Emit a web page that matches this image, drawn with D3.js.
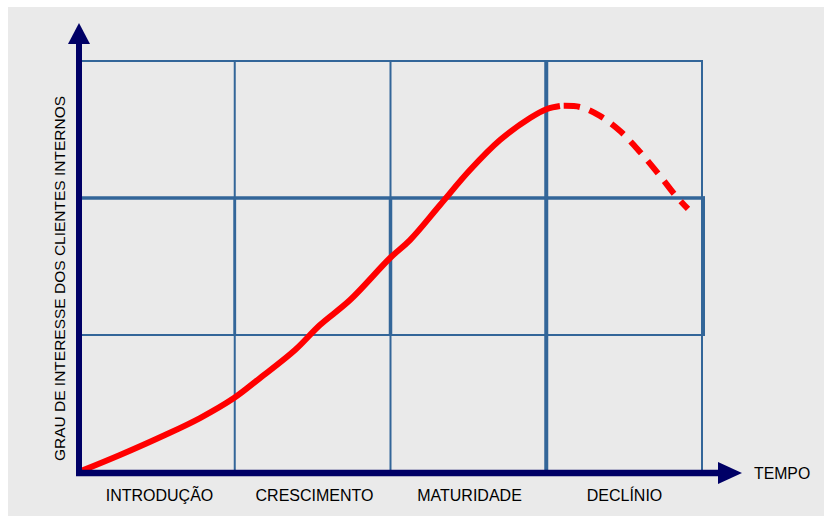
<!DOCTYPE html>
<html>
<head>
<meta charset="utf-8">
<script src="https://cdn.jsdelivr.net/npm/d3@7"></script>
<style>
  html, body { margin: 0; padding: 0; background: #ffffff; }
  svg { display: block; }
  text { font-family: "Liberation Sans", Arial, Helvetica, sans-serif; fill: #000; }
</style>
</head>
<body>
<svg id="chart" width="824" height="516"></svg>
<script>
// ---- data ----
const categories = ["INTRODUÇÃO", "CRESCIMENTO", "MATURIDADE", "DECLÍNIO"];
const xAxisTitle = "TEMPO";
const yAxisTitle = "GRAU DE INTERESSE DOS CLIENTES INTERNOS";
const gridCols = [0, 1, 2, 3, 4];
const gridRows = [0, 1, 2, 3];
// life-cycle curve (time in phases, interest in grid rows)
const solidTime     = [0.02, 0.263, 0.552, 0.777, 0.995, 1.162, 1.387, 1.547, 1.740, 1.997, 2.125, 2.318, 2.510, 2.703, 2.896, 3.005, 3.088];
const solidInterest = [0.01, 0.124, 0.270, 0.394, 0.540, 0.686, 0.891, 1.073, 1.255, 1.562, 1.693, 1.949, 2.204, 2.423, 2.584, 2.650, 2.672];
const dashTime      = [3.088, 3.217, 3.345, 3.474, 3.602, 3.731, 3.827, 3.910];
const dashInterest  = [2.672, 2.664, 2.599, 2.489, 2.336, 2.161, 2.022, 1.920];

// ---- layout ----
const svg = d3.select("#chart");
const plotLeft = 79, plotRight = 702, plotTop = 61, plotBottom = 472;
const x = d3.scaleLinear().domain([0, 4]).range([plotLeft, plotRight]);
const y = d3.scaleLinear().domain([0, 3]).range([plotBottom, plotTop]);
const band = d3.scaleBand().domain(categories).range([plotLeft + 3, plotRight]);
const gridColor = "#336699";
const axisColor = "#000066";

svg.append("rect").attr("x", 8).attr("y", 7).attr("width", 816).attr("height", 509).attr("fill", "#eaeaea");

// ---- grid ----
const g = svg.append("g");
g.selectAll("line.h").data(gridRows.slice(1)).join("line")
  .attr("x1", x(0)).attr("x2", x(4))
  .attr("y1", d => y(d)).attr("y2", d => y(d))
  .attr("stroke", gridColor)
  .attr("stroke-width", d => d === 2 ? 3.5 : 2);
g.selectAll("line.v").data(gridCols.slice(1)).join("line")
  .attr("x1", d => x(d)).attr("x2", d => x(d))
  .attr("y1", y(0)).attr("y2", y(3) - 1)
  .attr("stroke", gridColor)
  .attr("stroke-width", d => d === 3 ? 4 : 2);
// middle row overlay (slightly heavier, shifted box)
g.selectAll("line.m").data([1, 2]).join("line")
  .attr("x1", d => x(d)).attr("x2", d => x(d))
  .attr("y1", y(1)).attr("y2", y(2))
  .attr("stroke", gridColor).attr("stroke-width", d => d === 2 ? 3.5 : 2.8);
g.append("line")
  .attr("x1", x(4) + 2).attr("x2", x(4) + 2)
  .attr("y1", y(2) - 1.5).attr("y2", y(1) + 1)
  .attr("stroke", gridColor).attr("stroke-width", 2);
g.append("line")
  .attr("x1", x(4) - 1).attr("x2", x(4) + 3)
  .attr("y1", y(2)).attr("y2", y(2))
  .attr("stroke", gridColor).attr("stroke-width", 3.5);
g.append("line")
  .attr("x1", x(4)).attr("x2", x(4) + 3)
  .attr("y1", y(1)).attr("y2", y(1))
  .attr("stroke", gridColor).attr("stroke-width", 2);

// ---- curve ----
const lineGen = d3.line().x(d => x(d[0])).y(d => y(d[1])).curve(d3.curveCatmullRom.alpha(0.5));
const solidPts = solidTime.map((t, i) => [t, solidInterest[i]]);
const dashPts = dashTime.map((t, i) => [t, dashInterest[i]]);
svg.append("path").attr("d", lineGen(solidPts))
  .attr("fill", "none").attr("stroke", "#ff0000").attr("stroke-width", 6)
  .attr("stroke-linejoin", "round");
svg.append("path").attr("d", lineGen(dashPts))
  .attr("fill", "none").attr("stroke", "#ff0000").attr("stroke-width", 6)
  .attr("stroke-dasharray", "16 10").attr("stroke-dashoffset", -4);

// ---- axes (arrows) ----
const ax = x(0), ay = y(0) + 1;
svg.append("line").attr("x1", ax - 3).attr("x2", 720).attr("y1", ay).attr("y2", ay)
  .attr("stroke", axisColor).attr("stroke-width", 6.5);
svg.append("path").attr("d", `M718,${ay - 11}L742,${ay}L718,${ay + 11}Z`).attr("fill", axisColor);
svg.append("line").attr("x1", ax).attr("x2", ax).attr("y1", ay + 3).attr("y2", 42)
  .attr("stroke", axisColor).attr("stroke-width", 6);
svg.append("path").attr("d", `M${ax - 11},44L${ax},23L${ax + 11},44Z`).attr("fill", axisColor);

// category labels
const xAxis = svg.append("g").attr("transform", `translate(0,${ay})`)
  .call(d3.axisBottom(band).tickSize(0).tickPadding(16.5));
xAxis.select(".domain").remove();
xAxis.selectAll("text").attr("font-size", "16px")
  .attr("font-family", "'Liberation Sans', Arial, sans-serif").attr("fill", "#000");

svg.append("text").attr("x", 754).attr("y", 479).attr("font-size", "15.8px").text(xAxisTitle);
svg.append("text").attr("transform", "translate(65,278.5) rotate(-90)")
  .attr("text-anchor", "middle").attr("font-size", "15.5px").text(yAxisTitle);
</script>
</body>
</html>
